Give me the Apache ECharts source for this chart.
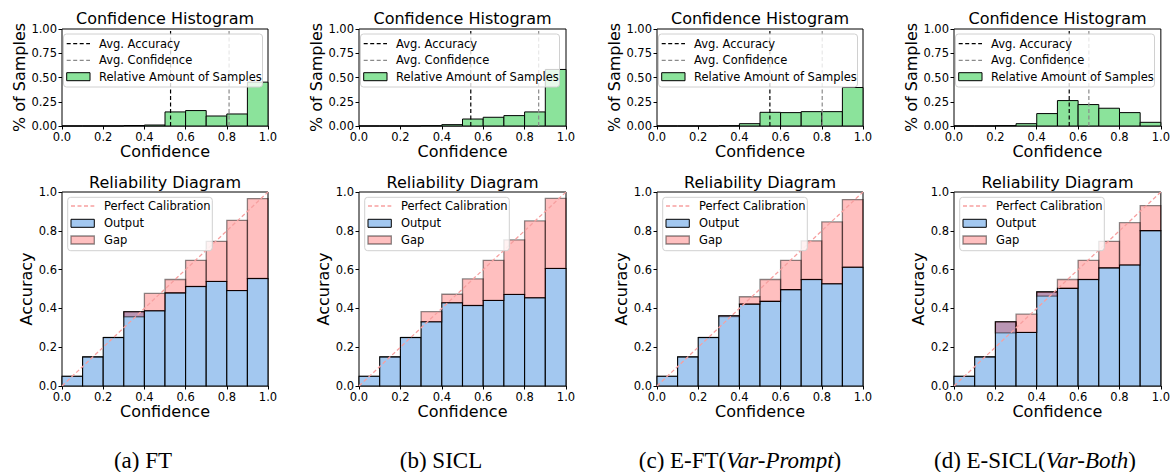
<!DOCTYPE html>
<html><head><meta charset="utf-8">
<script src="https://cdn.jsdelivr.net/npm/echarts@6/dist/echarts.min.js"></script>
<style>html,body{margin:0;padding:0;background:#fff}#c{width:1173px;height:472px}</style>
</head><body><div id="c"></div>
<script>
// ---------- data ----------
const binLower = [0.0, 0.1, 0.2, 0.3, 0.4, 0.5, 0.6, 0.7, 0.8, 0.9];
const binUpper = [0.1, 0.2, 0.3, 0.4, 0.5, 0.6, 0.7, 0.8, 0.9, 1.0];
const diagonal = [0, 1];

const captionText = ['(a) FT', '(b) SICL', '(c) E-FT({i|Var-Prompt})', '(d) E-SICL({i|Var-Both})'];

// FT
const samplesFT = [0, 0, 0, 0.005, 0.010, 0.145, 0.159, 0.103, 0.124, 0.452];
const accFT     = [0.05, 0.15, 0.25, 0.383, 0.388, 0.480, 0.513, 0.539, 0.492, 0.554];
const confFT    = [0.05, 0.15, 0.25, 0.357, 0.477, 0.549, 0.648, 0.746, 0.854, 0.966];
const avgAccFT = 0.527, avgConfFT = 0.811;

// SICL
const samplesSICL = [0, 0, 0, 0.003, 0.014, 0.072, 0.090, 0.107, 0.145, 0.583];
const accSICL     = [0.05, 0.15, 0.25, 0.331, 0.429, 0.415, 0.441, 0.472, 0.455, 0.606];
const confSICL    = [0.05, 0.15, 0.25, 0.383, 0.473, 0.552, 0.648, 0.753, 0.851, 0.967];
const avgAccSICL = 0.540, avgConfSICL = 0.868;

// E-FT (Var-Prompt)
const samplesEFT = [0, 0, 0, 0.003, 0.024, 0.141, 0.138, 0.148, 0.148, 0.397];
const accEFT     = [0.05, 0.15, 0.25, 0.362, 0.422, 0.436, 0.497, 0.549, 0.527, 0.612];
const confEFT    = [0.05, 0.15, 0.25, 0.358, 0.460, 0.549, 0.648, 0.748, 0.846, 0.961];
const avgAccEFT = 0.548, avgConfEFT = 0.802;

// E-SICL (Var-Both)
const samplesESICL = [0, 0, 0.004, 0.024, 0.128, 0.262, 0.221, 0.183, 0.138, 0.038];
const accESICL     = [0.05, 0.15, 0.331, 0.276, 0.485, 0.503, 0.549, 0.609, 0.624, 0.801];
const confESICL    = [0.05, 0.15, 0.274, 0.370, 0.463, 0.549, 0.648, 0.746, 0.842, 0.930];
const avgAccESICL = 0.557, avgConfESICL = 0.652;

const panels = [
  {samples: samplesFT, acc: accFT, conf: confFT, avgAcc: avgAccFT, avgConf: avgConfFT},
  {samples: samplesSICL, acc: accSICL, conf: confSICL, avgAcc: avgAccSICL, avgConf: avgConfSICL},
  {samples: samplesEFT, acc: accEFT, conf: confEFT, avgAcc: avgAccEFT, avgConf: avgConfEFT},
  {samples: samplesESICL, acc: accESICL, conf: confESICL, avgAcc: avgAccESICL, avgConf: avgConfESICL}
];

// ---------- layout / style ----------
const FONT = 'DejaVu Sans';
const plotLeft = [62, 359, 657, 954];
const plotWidth = [206, 207, 206, 207];
const histTop = 29, histH = 97;
const relTop = 192, relH = 194;
const captionX = [143, 441, 740, 1035];
const GREEN = '#8be39b', BLUE = '#a3c8f0', GAP = 'rgba(255,0,0,0.25)';

function rectRender(fill, stroke, lw) {
  return function (params, api) {
    const lo = api.value(0), hi = api.value(1), y0 = api.value(2), y1 = api.value(3);
    const p0 = api.coord([lo, y0]);
    const p1 = api.coord([hi, y1]);
    return {
      type: 'rect',
      shape: {x: p0[0], y: Math.min(p0[1], p1[1]), width: p1[0] - p0[0], height: Math.abs(p0[1] - p1[1])},
      style: {fill: fill, stroke: stroke, lineWidth: lw}
    };
  };
}

const grid = [], xAxis = [], yAxis = [], series = [], graphic = [];
const tickStyle = {show: true, length: 3.5, lineStyle: {color: '#000', width: 1}};
const lblStyle = {color: '#000', fontSize: 11.5, fontFamily: FONT};
const nameStyle = {color: '#000', fontSize: 16, fontFamily: FONT};

panels.forEach((p, k) => {
  const L = plotLeft[k], W = plotWidth[k];
  const gh = 2 * k, gr = 2 * k + 1;
  grid.push({left: L, top: histTop, width: W, height: histH, show: true, borderColor: '#000', borderWidth: 1, backgroundColor: 'transparent'});
  grid.push({left: L, top: relTop, width: W, height: relH, show: true, borderColor: '#000', borderWidth: 1, backgroundColor: 'transparent'});
  [gh, gr].forEach(g => {
    xAxis.push({
      type: 'value', gridIndex: g, min: 0, max: 1, interval: 0.2,
      axisLine: {show: false}, axisTick: tickStyle, splitLine: {show: false},
      axisLabel: Object.assign({margin: 5, formatter: v => v.toFixed(1)}, lblStyle),
      name: 'Confidence', nameLocation: 'middle', nameGap: 17, nameTextStyle: nameStyle
    });
  });
  yAxis.push({
    type: 'value', gridIndex: gh, min: 0, max: 1, interval: 0.25,
    axisLine: {show: false}, axisTick: tickStyle, splitLine: {show: false},
    axisLabel: Object.assign({margin: 5, formatter: v => v.toFixed(2)}, lblStyle),
    name: '% of Samples', nameLocation: 'middle', nameRotate: 90, nameGap: 34, nameTextStyle: nameStyle
  });
  yAxis.push({
    type: 'value', gridIndex: gr, min: 0, max: 1, interval: 0.2,
    axisLine: {show: false}, axisTick: tickStyle, splitLine: {show: false},
    axisLabel: Object.assign({margin: 5, formatter: v => v.toFixed(1)}, lblStyle),
    name: 'Accuracy', nameLocation: 'middle', nameRotate: 90, nameGap: 28, nameTextStyle: nameStyle
  });

  // histogram
  series.push({
    type: 'custom', xAxisIndex: gh, yAxisIndex: gh, z: 2, silent: true,
    data: binLower.map((lo, i) => [lo, binUpper[i], 0, p.samples[i]]),
    encode: {x: [0, 1], y: [2, 3]},
    renderItem: rectRender(GREEN, '#000', 1)
  });
  series.push({
    type: 'line', xAxisIndex: gh, yAxisIndex: gh, z: 3, silent: true, symbol: 'none',
    data: [[p.avgAcc, 0], [p.avgAcc, 1]],
    lineStyle: {color: '#000', width: 1.2, type: [4, 2.5]}
  });
  series.push({
    type: 'line', xAxisIndex: gh, yAxisIndex: gh, z: 3, silent: true, symbol: 'none',
    data: [[p.avgConf, 0], [p.avgConf, 1]],
    lineStyle: {color: '#8a8a8a', width: 1.2, type: [4, 2.5]}
  });

  // reliability
  series.push({
    type: 'custom', xAxisIndex: gr, yAxisIndex: gr, z: 2, silent: true,
    data: binLower.map((lo, i) => [lo, binUpper[i], 0, p.acc[i]]),
    encode: {x: [0, 1], y: [2, 3]},
    renderItem: rectRender(BLUE, '#000', 1.1)
  });
  series.push({
    type: 'custom', xAxisIndex: gr, yAxisIndex: gr, z: 3, silent: true,
    data: binLower.map((lo, i) => [lo, binUpper[i], p.acc[i], p.conf[i]]),
    encode: {x: [0, 1], y: [2, 3]},
    renderItem: rectRender(GAP, 'rgba(0,0,0,0.45)', 1.3)
  });
  series.push({
    type: 'line', xAxisIndex: gr, yAxisIndex: gr, z: 4, silent: true, symbol: 'none',
    data: [[diagonal[0], diagonal[0]], [diagonal[1], diagonal[1]]],
    lineStyle: {color: '#f7a0a0', width: 1.3, type: [4, 2.5]}
  });

  // titles
  const cx = L + W / 2;
  graphic.push({type: 'text', x: cx, y: 18, z: 100, style: {text: 'Confidence Histogram', fontFamily: FONT, fontSize: 16, fill: '#000', align: 'center', verticalAlign: 'middle'}});
  graphic.push({type: 'text', x: cx, y: 182, z: 100, style: {text: 'Reliability Diagram', fontFamily: FONT, fontSize: 16, fill: '#000', align: 'center', verticalAlign: 'middle'}});

  // histogram legend
  const hx = L + 1.5, hy = histTop + 5;
  graphic.push({type: 'rect', z: 100, shape: {x: hx, y: hy, width: 199, height: 53, r: 3}, style: {fill: 'rgba(255,255,255,0.8)', stroke: '#d0d0d0', lineWidth: 1}});
  graphic.push({type: 'line', z: 101, shape: {x1: L + 4.7, y1: histTop + 14.7, x2: L + 28, y2: histTop + 14.7}, style: {stroke: '#000', lineWidth: 1.2, lineDash: [4, 2.5]}});
  graphic.push({type: 'line', z: 101, shape: {x1: L + 4.7, y1: histTop + 31.3, x2: L + 28, y2: histTop + 31.3}, style: {stroke: '#8a8a8a', lineWidth: 1.2, lineDash: [4, 2.5]}});
  graphic.push({type: 'rect', z: 101, shape: {x: L + 4.7, y: histTop + 43.7, width: 23.3, height: 8}, style: {fill: GREEN, stroke: '#000', lineWidth: 1}});
  ['Avg. Accuracy', 'Avg. Confidence', 'Relative Amount of Samples'].forEach((t, j) => {
    graphic.push({type: 'text', z: 101, x: L + 37, y: histTop + [14.7, 31.3, 47.7][j], style: {text: t, fontFamily: FONT, fontSize: 11.5, fill: '#000', verticalAlign: 'middle'}});
  });

  // reliability legend
  graphic.push({type: 'rect', z: 100, shape: {x: L + 5.7, y: relTop + 5.3, width: 144.6, height: 53.4, r: 3}, style: {fill: 'rgba(255,255,255,0.8)', stroke: '#d0d0d0', lineWidth: 1}});
  graphic.push({type: 'line', z: 101, shape: {x1: L + 9, y1: relTop + 14, x2: L + 32.3, y2: relTop + 14}, style: {stroke: '#f7a0a0', lineWidth: 1.3, lineDash: [4, 2.5]}});
  graphic.push({type: 'rect', z: 101, shape: {x: L + 9, y: relTop + 27.3, width: 23.3, height: 8}, style: {fill: BLUE, stroke: '#000', lineWidth: 1}});
  graphic.push({type: 'rect', z: 101, shape: {x: L + 9, y: relTop + 44, width: 23.3, height: 8}, style: {fill: '#ffc0c0', stroke: 'rgba(0,0,0,0.45)', lineWidth: 1.3}});
  ['Perfect Calibration', 'Output', 'Gap'].forEach((t, j) => {
    graphic.push({type: 'text', z: 101, x: L + 42, y: relTop + [14, 31.3, 48][j], style: {text: t, fontFamily: FONT, fontSize: 11.5, fill: '#000', verticalAlign: 'middle'}});
  });

  // caption
  graphic.push({type: 'text', z: 100, x: captionX[k], y: 460, style: {
    text: captionText[k], fontFamily: 'Liberation Serif', fontSize: 23, fill: '#000', align: 'center', verticalAlign: 'middle',
    rich: {i: {fontFamily: 'Liberation Serif', fontSize: 23, fontStyle: 'italic', fill: '#000'}}
  }});
});

const chart = echarts.init(document.getElementById('c'), null, {renderer: 'svg'});
chart.setOption({animation: false, grid, xAxis, yAxis, series, graphic});
</script></body></html>
